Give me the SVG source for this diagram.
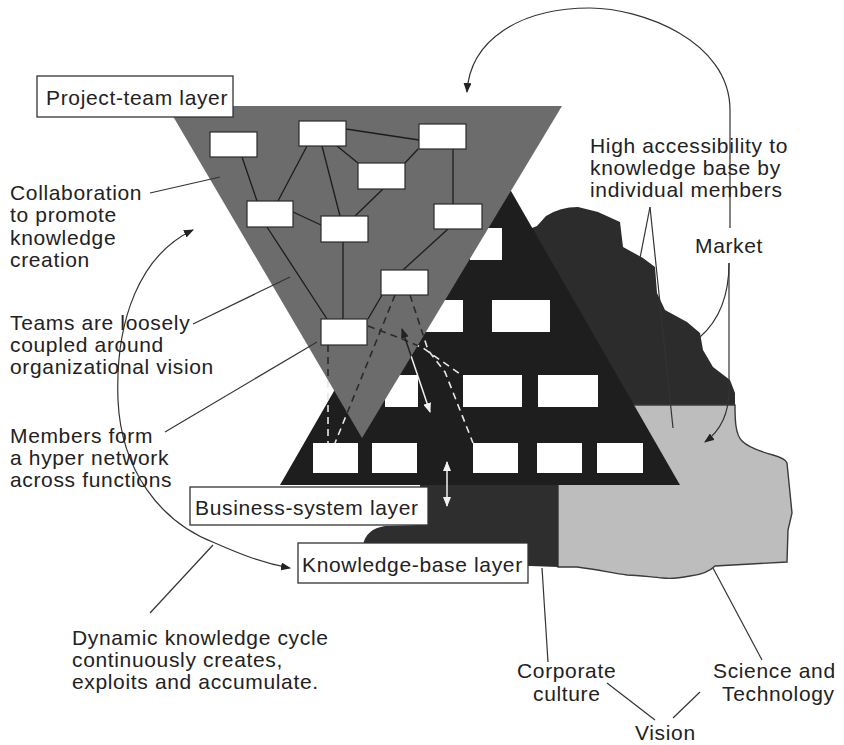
<svg xmlns="http://www.w3.org/2000/svg" width="844" height="745" viewBox="0 0 844 745">
  <style>
    text { font-family: "Liberation Sans", Arial, Helvetica, sans-serif; font-size: 21px; letter-spacing: 0.65px; fill: #222; }
    .box { fill: #fff; stroke: #2a2a2a; stroke-width: 1.2; }
    .slot { fill: #fff; }
    .link { stroke: #1c1c1c; stroke-width: 1.3; fill: none; }
    .lead { stroke: #333; stroke-width: 1.2; fill: none; }
    .dash-dark { stroke: #2a2a2a; stroke-width: 1.6; stroke-dasharray: 7 5; fill: none; }
    .dash-light { stroke: #e8e8e8; stroke-width: 1.6; stroke-dasharray: 7 5; fill: none; }
    .label { fill: #fff; stroke: #333; stroke-width: 1.3; }
  </style>
  <defs>
    <marker id="ah" viewBox="0 0 10 8" refX="9" refY="4" markerWidth="10" markerHeight="8" markerUnits="userSpaceOnUse" orient="auto-start-reverse">
      <path d="M0,0 L10,4 L0,8 Z" fill="#222"/>
    </marker>
    <marker id="ahw" viewBox="0 0 10 8" refX="9" refY="4" markerWidth="10" markerHeight="8" markerUnits="userSpaceOnUse" orient="auto-start-reverse">
      <path d="M0,0 L10,4 L0,8 Z" fill="#f2f2f2"/>
    </marker>
    <clipPath id="teamArea">
      <polygon points="167,106 562,106 362,438"/>
    </clipPath>
    <mask id="outsideTeam">
      <rect x="0" y="0" width="844" height="745" fill="#fff"/>
      <polygon points="167,106 562,106 362,438" fill="#000"/>
    </mask>
  </defs>

  <rect width="844" height="745" fill="#fff"/>

  <!-- knowledge-base layer: market (dark), science & technology (light), corporate culture (dark) -->
  <g id="knowledge-base">
    <path id="market-area" fill="#2c2c2c" d="M500,405 L522,232 L537,226 L546,216 Q560,207 578,207 L598,212 L620,222 L623,247 L643,258 L655,267 L657,293 L665,310 L687,322 L700,333 L703,350 L713,367 L730,380 L735,393 L735,405 Z"/>
    <path id="science-area" fill="#bdbdbd" stroke="#3a3a3a" stroke-width="1.4" d="M600,405 L735,405 C735,418 735,434 742,441 C748,447 762,452 773,455 C780,457 786,459 787,463 L790,493 L792,513 L788,530 L787,562 L715,566 C710,571 700,575 690,576 C680,578 670,579 663,578 C650,577 638,575 627,575 C612,573 600,570 577,567 L558,567 L558,480 Z"/>
    <path id="culture-area" fill="#2e2e2e" d="M420,485 L558,485 L558,567 L530,566 L365,560 L363,545 Q366,529 385,526 L420,525 Z"/>
  </g>

  <!-- business-system layer -->
  <g id="business-system">
    <polygon points="480,137 680,485 280,485" fill="#1e1e1e"/>
    <rect class="slot" x="470" y="228" width="32" height="32"/>
    <rect class="slot" x="425" y="300" width="38" height="32"/>
    <rect class="slot" x="492" y="300" width="58" height="32"/>
    <rect class="slot" x="385" y="375" width="33" height="32"/>
    <rect class="slot" x="463" y="375" width="59" height="32"/>
    <rect class="slot" x="538" y="375" width="60" height="32"/>
    <rect class="slot" x="313" y="443" width="45" height="30"/>
    <rect class="slot" x="372" y="443" width="45" height="30"/>
    <rect class="slot" x="473" y="443" width="45" height="30"/>
    <rect class="slot" x="537" y="443" width="45" height="30"/>
    <rect class="slot" x="597" y="443" width="46" height="30"/>
  </g>

  <!-- project-team layer -->
  <g id="project-team">
    <polygon points="167,106 562,106 362,438" fill="#6c6c6c"/>
  </g>

  <!-- connectors -->
  <g id="connectors">
    <g id="team-links">
      <line class="link" x1="346" y1="129" x2="419" y2="140"/>
      <line class="link" x1="418" y1="149" x2="405" y2="163"/>
      <line class="link" x1="453" y1="149" x2="453" y2="204"/>
      <line class="link" x1="307" y1="146" x2="278" y2="201"/>
      <line class="link" x1="322" y1="146" x2="340" y2="216"/>
      <line class="link" x1="337" y1="146" x2="358" y2="163"/>
      <line class="link" x1="383" y1="189" x2="355" y2="216"/>
      <line class="link" x1="293" y1="212" x2="321" y2="225"/>
      <line class="link" x1="242" y1="157" x2="257" y2="201"/>
      <line class="link" x1="267" y1="227" x2="327" y2="319"/>
      <line class="link" x1="343" y1="242" x2="343" y2="319"/>
      <line class="link" x1="448" y1="229" x2="403" y2="270"/>
      <line class="link" x1="382" y1="295" x2="368" y2="319"/>
    </g>

    <!-- dashed ties between team members and business units -->
    <g id="ties-light" mask="url(#outsideTeam)">
      <path class="dash-light" d="M328,345 L328,443"/>
      <path class="dash-light" d="M395,295 L335,443"/>
      <path class="dash-light" d="M368,326 L400,338 L423,348 L463,376"/>
      <path class="dash-light" d="M410,295 L428,350 L445,372 L473,443"/>
      <path stroke="#f2f2f2" stroke-width="1.5" fill="none" marker-start="url(#ahw)" marker-end="url(#ahw)" d="M402,329 L430,412"/>
    </g>
    <g id="ties-dark" clip-path="url(#teamArea)">
      <path class="dash-dark" d="M328,345 L328,443"/>
      <path class="dash-dark" d="M395,295 L335,443"/>
      <path class="dash-dark" d="M368,326 L400,338 L423,348 L463,376"/>
      <path class="dash-dark" d="M410,295 L428,350 L445,372 L473,443"/>
      <path stroke="#222" stroke-width="1.5" fill="none" marker-start="url(#ah)" marker-end="url(#ah)" d="M402,329 L430,412"/>
    </g>
    <path id="layer-exchange" stroke="#f2f2f2" stroke-width="1.5" fill="none" marker-start="url(#ahw)" marker-end="url(#ahw)" d="M447,462 L447,506"/>

    <!-- knowledge cycle loop -->
    <path class="lead" marker-start="url(#ah)" marker-end="url(#ah)" d="M193,230 C140,255 115,320 118,400 C121,470 160,522 215,543 C240,554 262,563 290,568"/>
    <!-- market feedback loop -->
    <path class="lead" marker-end="url(#ah)" d="M730,228 L730,110 C730,40 640,8 590,8 C520,8 470,40 467,92"/>
    <path class="lead" d="M729,263 C729,300 716,323 700,337"/>
    <path class="lead" marker-end="url(#ah)" d="M729,263 L729,390 C729,414 720,431 705,442"/>

    <!-- callout leaders -->
    <line class="lead" x1="650" y1="207" x2="640" y2="258"/>
    <line class="lead" x1="650" y1="207" x2="673" y2="428"/>
    <line class="lead" x1="150" y1="193" x2="220" y2="177"/>
    <line class="lead" x1="193" y1="324" x2="290" y2="277"/>
    <line class="lead" x1="165" y1="432" x2="317" y2="342"/>
    <line class="lead" x1="150" y1="613" x2="213" y2="545"/>
    <line class="lead" x1="542" y1="568" x2="548" y2="662"/>
    <line class="lead" x1="713" y1="568" x2="762" y2="660"/>
    <line class="lead" x1="607" y1="683" x2="655" y2="720"/>
    <line class="lead" x1="700" y1="692" x2="673" y2="718"/>
  </g>

  <!-- team member nodes -->
  <g id="team-nodes">
    <g id="member-a"><rect class="box" x="210" y="132" width="47" height="25"/></g>
    <g id="member-b"><rect class="box" x="299" y="121" width="47" height="25"/></g>
    <g id="member-c"><rect class="box" x="419" y="124" width="47" height="25"/></g>
    <g id="member-d"><rect class="box" x="358" y="163" width="47" height="26"/></g>
    <g id="member-e"><rect class="box" x="247" y="201" width="46" height="26"/></g>
    <g id="member-f"><rect class="box" x="321" y="216" width="47" height="26"/></g>
    <g id="member-g"><rect class="box" x="434" y="204" width="48" height="25"/></g>
    <g id="member-h"><rect class="box" x="381" y="270" width="47" height="25"/></g>
    <g id="member-i"><rect class="box" x="321" y="319" width="46" height="26"/></g>
  </g>

  <!-- layer labels -->
  <g id="label-project-team">
    <rect class="label" x="37" y="76" width="196" height="41"/>
    <text x="46" y="105">Project-team layer</text>
  </g>
  <g id="label-business-system">
    <rect class="label" x="190" y="487" width="238" height="38"/>
    <text x="195" y="515">Business-system layer</text>
  </g>
  <g id="label-knowledge-base">
    <rect class="label" x="298" y="543" width="230" height="40"/>
    <text x="302" y="572">Knowledge-base layer</text>
  </g>

  <!-- annotations -->
  <g id="annotations">
    <text x="10" y="200">Collaboration</text>
    <text x="10" y="222">to promote</text>
    <text x="10" y="245">knowledge</text>
    <text x="10" y="267">creation</text>

    <text x="10" y="330">Teams are loosely</text>
    <text x="10" y="352">coupled around</text>
    <text x="10" y="374">organizational vision</text>

    <text x="10" y="443">Members form</text>
    <text x="10" y="465">a hyper network</text>
    <text x="10" y="487">across functions</text>

    <text x="590" y="153">High accessibility to</text>
    <text x="590" y="175">knowledge base by</text>
    <text x="590" y="197">individual members</text>

    <text x="695" y="253">Market</text>

    <text x="72" y="645">Dynamic knowledge cycle</text>
    <text x="72" y="667">continuously creates,</text>
    <text x="72" y="689">exploits and accumulate.</text>

    <text x="517" y="678">Corporate</text>
    <text x="533" y="701">culture</text>
    <text x="713" y="678">Science and</text>
    <text x="722" y="701">Technology</text>
    <text x="635" y="740">Vision</text>
  </g>
</svg>
